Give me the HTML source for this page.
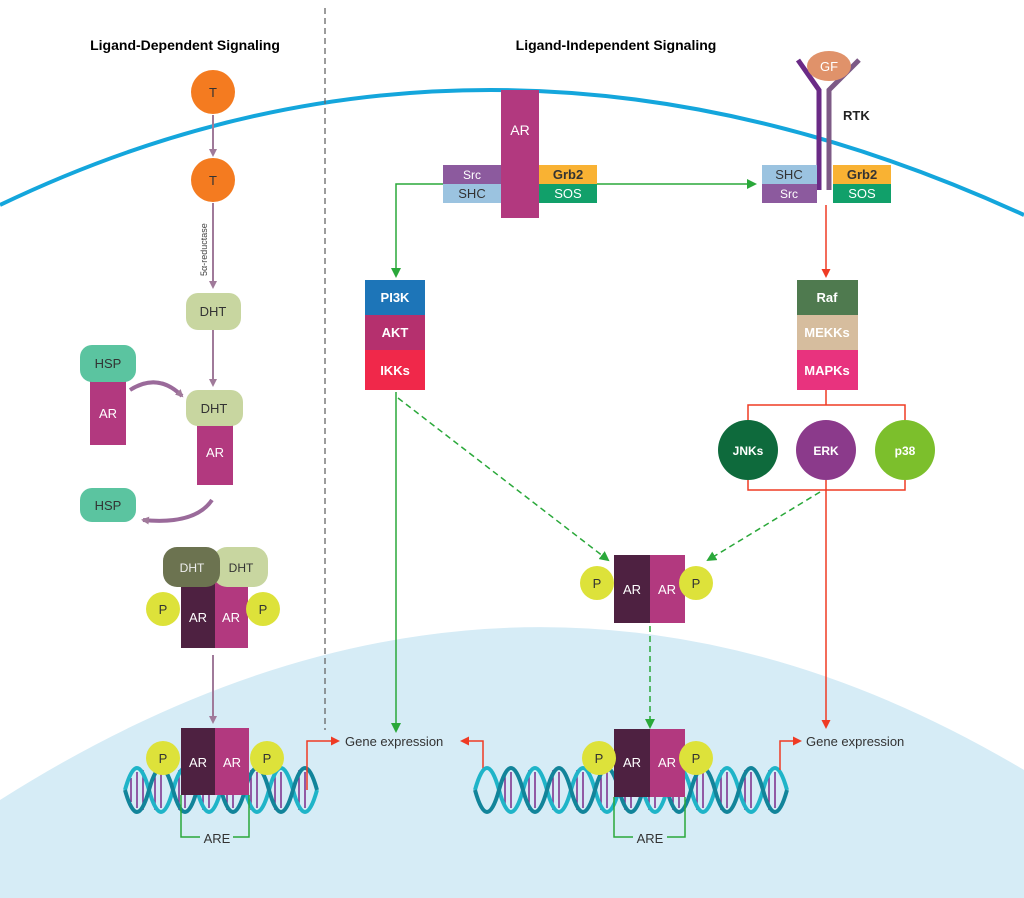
<!DOCTYPE html>
<html><head><meta charset="utf-8"><style>
body{margin:0;background:#fff}
svg{display:block}
text{font-family:"Liberation Sans",sans-serif}
</style></head><body>
<svg width="1024" height="898" viewBox="0 0 1024 898" xmlns="http://www.w3.org/2000/svg">
<defs>
<marker id="ap" markerWidth="8" markerHeight="8" refX="6" refY="4" orient="auto" markerUnits="userSpaceOnUse"><path d="M0,0 L8,4 L0,8 Z" fill="#a07a9a"/></marker>
<marker id="ag" markerWidth="10" markerHeight="10" refX="8" refY="5" orient="auto" markerUnits="userSpaceOnUse"><path d="M0,0 L10,5 L0,10 Z" fill="#2aa83a"/></marker>
<marker id="ar" markerWidth="9" markerHeight="9" refX="7" refY="4.5" orient="auto" markerUnits="userSpaceOnUse"><path d="M0,0 L9,4.5 L0,9 Z" fill="#ef3b24"/></marker>
</defs>
<path d="M0,800 Q520,470 1024,770 L1024,898 L0,898 Z" fill="#d6ecf6"/>
<path d="M0,205 Q490,-30 1024,215" fill="none" stroke="#14a6dc" stroke-width="4"/>
<line x1="325" y1="8" x2="325" y2="730" stroke="#666" stroke-width="1.3" stroke-dasharray="6,4"/>
<text x="185" y="50" font-size="14" font-weight="bold" text-anchor="middle">Ligand-Dependent Signaling</text>
<text x="616" y="50" font-size="14" font-weight="bold" text-anchor="middle">Ligand-Independent Signaling</text>

<!-- left column -->
<circle cx="213" cy="92" r="22" fill="#f47b20"/><text x="213" y="97" font-size="13" text-anchor="middle" fill="#333">T</text>
<line x1="213" y1="115" x2="213" y2="155" stroke="#a07a9a" stroke-width="2" marker-end="url(#ap)"/>
<circle cx="213" cy="180" r="22" fill="#f47b20"/><text x="213" y="185" font-size="13" text-anchor="middle" fill="#333">T</text>
<line x1="213" y1="203" x2="213" y2="287" stroke="#a07a9a" stroke-width="2" marker-end="url(#ap)"/>
<text transform="translate(207,276) rotate(-90)" font-size="9" fill="#444">5α-reductase</text>
<rect x="186" y="293" width="55" height="37" rx="12" fill="#c8d6a0"/><text x="213" y="316" font-size="13" text-anchor="middle" fill="#333">DHT</text>
<line x1="213" y1="330" x2="213" y2="385" stroke="#a07a9a" stroke-width="2" marker-end="url(#ap)"/>
<rect x="197" y="420" width="36" height="65" fill="#b2397f"/><text x="215" y="457" font-size="13" text-anchor="middle" fill="#fff">AR</text>
<rect x="186" y="390" width="57" height="36" rx="12" fill="#c8d6a0"/><text x="214" y="413" font-size="13" text-anchor="middle" fill="#333">DHT</text>
<rect x="90" y="378" width="36" height="67" fill="#b2397f"/><text x="108" y="418" font-size="13" text-anchor="middle" fill="#fff">AR</text>
<rect x="80" y="345" width="56" height="37" rx="12" fill="#5bc4a0"/><text x="108" y="368" font-size="13" text-anchor="middle" fill="#333">HSP</text>
<path d="M130,390 Q158,372 182,396" fill="none" stroke="#9a6a9a" stroke-width="4" marker-end="url(#ap)"/>
<path d="M212,500 Q195,525 143,520" fill="none" stroke="#9a6a9a" stroke-width="4" marker-end="url(#ap)"/>
<rect x="80" y="488" width="56" height="34" rx="12" fill="#5bc4a0"/><text x="108" y="510" font-size="13" text-anchor="middle" fill="#333">HSP</text>
<rect x="181" y="580" width="34" height="68" fill="#4e2141"/><rect x="215" y="580" width="33" height="68" fill="#b2397f"/>
<text x="198" y="622" font-size="13" text-anchor="middle" fill="#fff">AR</text><text x="231" y="622" font-size="13" text-anchor="middle" fill="#fff">AR</text>
<rect x="213" y="547" width="55" height="40" rx="14" fill="#c8d6a0"/><text x="241" y="572" font-size="12" text-anchor="middle" fill="#333">DHT</text>
<rect x="163" y="547" width="57" height="40" rx="14" fill="#6c7350"/><text x="192" y="572" font-size="12" text-anchor="middle" fill="#eee">DHT</text>
<circle cx="163" cy="609" r="17" fill="#dde23a"/><text x="163" y="614" font-size="13" text-anchor="middle" fill="#333">P</text>
<circle cx="263" cy="609" r="17" fill="#dde23a"/><text x="263" y="614" font-size="13" text-anchor="middle" fill="#333">P</text>
<line x1="213" y1="655" x2="213" y2="722" stroke="#a07a9a" stroke-width="2" marker-end="url(#ap)"/>

<!-- left DNA -->
<g stroke="#7a2a8a" stroke-width="1.5">
<path d="M131,778v24M137,772v36M143,770v40M155,770v40M161,772v36M179,770v40M185,772v36M203,770v40M209,772v36M227,770v40M233,772v36M251,770v40M257,772v36M275,770v40M281,772v36M299,770v40M305,772v36"/>
</g>
<path d="M125,790 q12,-44 24,0 t24,0 t24,0 t24,0 t24,0 t24,0 t24,0 t24,0" fill="none" stroke="#1fb4c8" stroke-width="4"/>
<path d="M125,790 q12,44 24,0 t24,0 t24,0 t24,0 t24,0 t24,0 t24,0 t24,0" fill="none" stroke="#12849a" stroke-width="4"/>
<rect x="181" y="728" width="34" height="67" fill="#4e2141"/><rect x="215" y="728" width="34" height="67" fill="#b2397f"/>
<text x="198" y="767" font-size="13" text-anchor="middle" fill="#fff">AR</text><text x="232" y="767" font-size="13" text-anchor="middle" fill="#fff">AR</text>
<circle cx="163" cy="758" r="17" fill="#dde23a"/><text x="163" y="763" font-size="13" text-anchor="middle" fill="#333">P</text>
<circle cx="267" cy="758" r="17" fill="#dde23a"/><text x="267" y="763" font-size="13" text-anchor="middle" fill="#333">P</text>
<path d="M181,795 V837 H200 M233,837 H249 V795" fill="none" stroke="#2aa83a" stroke-width="1.5"/>
<text x="217" y="843" font-size="13" text-anchor="middle" fill="#333">ARE</text>
<path d="M307,790 V741 H338" fill="none" stroke="#ef3b24" stroke-width="1.5" marker-end="url(#ar)"/>
<text x="345" y="746" font-size="13" fill="#333">Gene expression</text>
<path d="M483,770 V741 H462" fill="none" stroke="#ef3b24" stroke-width="1.5" marker-end="url(#ar)"/>

<!-- AR membrane complex -->
<path d="M443,184 H396 V276" fill="none" stroke="#2aa83a" stroke-width="1.5" marker-end="url(#ag)"/>
<path d="M597,184 H755" fill="none" stroke="#2aa83a" stroke-width="1.5" marker-end="url(#ag)"/>
<rect x="501" y="90" width="38" height="128" fill="#b2397f"/><text x="520" y="135" font-size="14" text-anchor="middle" fill="#fff">AR</text>
<rect x="443" y="165" width="58" height="19" fill="#8c5a9e"/><text x="472" y="179" font-size="12" text-anchor="middle" fill="#fff">Src</text>
<rect x="443" y="184" width="58" height="19" fill="#9bc3e0"/><text x="472" y="198" font-size="13" text-anchor="middle" fill="#333">SHC</text>
<rect x="539" y="165" width="58" height="19" fill="#f9b233"/><text x="568" y="179" font-size="13" font-weight="bold" text-anchor="middle" fill="#333">Grb2</text>
<rect x="539" y="184" width="58" height="19" fill="#11a06a"/><text x="568" y="198" font-size="13" text-anchor="middle" fill="#fff">SOS</text>

<!-- RTK -->
<path d="M798,60 L819,90 V190" fill="none" stroke="#6a2a86" stroke-width="5"/>
<path d="M859,60 L829,90 V190" fill="none" stroke="#7d5a86" stroke-width="5"/>
<ellipse cx="829" cy="66" rx="22" ry="15" fill="#e0926a"/><text x="829" y="71" font-size="13" text-anchor="middle" fill="#fff">GF</text>
<text x="843" y="120" font-size="13" font-weight="bold" fill="#222">RTK</text>
<rect x="762" y="165" width="55" height="19" fill="#9bc3e0"/><text x="789" y="179" font-size="13" text-anchor="middle" fill="#333">SHC</text>
<rect x="762" y="184" width="55" height="19" fill="#8c5a9e"/><text x="789" y="198" font-size="12" text-anchor="middle" fill="#fff">Src</text>
<rect x="833" y="165" width="58" height="19" fill="#f9b233"/><text x="862" y="179" font-size="13" font-weight="bold" text-anchor="middle" fill="#333">Grb2</text>
<rect x="833" y="184" width="58" height="19" fill="#11a06a"/><text x="862" y="198" font-size="13" text-anchor="middle" fill="#fff">SOS</text>
<line x1="826" y1="205" x2="826" y2="276" stroke="#ef3b24" stroke-width="1.5" marker-end="url(#ar)"/>

<rect x="365" y="280" width="60" height="35" fill="#1d75b8"/><text x="395" y="302" font-size="13" font-weight="bold" text-anchor="middle" fill="#fff">PI3K</text>
<rect x="365" y="315" width="60" height="35" fill="#b5306e"/><text x="395" y="337" font-size="13" font-weight="bold" text-anchor="middle" fill="#fff">AKT</text>
<rect x="365" y="350" width="60" height="40" fill="#f0284a"/><text x="395" y="375" font-size="13" font-weight="bold" text-anchor="middle" fill="#fff">IKKs</text>
<rect x="797" y="280" width="61" height="35" fill="#4f7a4f"/><text x="827" y="302" font-size="13" font-weight="bold" text-anchor="middle" fill="#fff">Raf</text>
<rect x="797" y="315" width="61" height="35" fill="#d6bd9e"/><text x="827" y="337" font-size="13" font-weight="bold" text-anchor="middle" fill="#fff">MEKKs</text>
<rect x="797" y="350" width="61" height="40" fill="#e8337e"/><text x="827" y="375" font-size="13" font-weight="bold" text-anchor="middle" fill="#fff">MAPKs</text>

<path d="M826,390 V405 M748,420 V405 H905 V420 M748,480 V490 H905 V480" fill="none" stroke="#ef3b24" stroke-width="1.5"/>
<circle cx="748" cy="450" r="30" fill="#0e6a3c"/><text x="748" y="455" font-size="12" font-weight="bold" text-anchor="middle" fill="#fff">JNKs</text>
<circle cx="826" cy="450" r="30" fill="#8b3a8b"/><text x="826" y="455" font-size="12" font-weight="bold" text-anchor="middle" fill="#fff">ERK</text>
<circle cx="905" cy="450" r="30" fill="#7cbf2c"/><text x="905" y="455" font-size="12" font-weight="bold" text-anchor="middle" fill="#fff">p38</text>
<line x1="826" y1="480" x2="826" y2="727" stroke="#ef3b24" stroke-width="1.5" marker-end="url(#ar)"/>
<line x1="820" y1="492" x2="708" y2="560" stroke="#2aa83a" stroke-width="1.5" stroke-dasharray="6,4" marker-end="url(#ag)"/>
<line x1="398" y1="398" x2="608" y2="560" stroke="#2aa83a" stroke-width="1.5" stroke-dasharray="6,4" marker-end="url(#ag)"/>
<line x1="396" y1="392" x2="396" y2="731" stroke="#2aa83a" stroke-width="1.5" marker-end="url(#ag)"/>

<rect x="614" y="555" width="36" height="68" fill="#4e2141"/><rect x="650" y="555" width="35" height="68" fill="#b2397f"/>
<text x="632" y="594" font-size="13" text-anchor="middle" fill="#fff">AR</text><text x="667" y="594" font-size="13" text-anchor="middle" fill="#fff">AR</text>
<circle cx="597" cy="583" r="17" fill="#dde23a"/><text x="597" y="588" font-size="13" text-anchor="middle" fill="#333">P</text>
<circle cx="696" cy="583" r="17" fill="#dde23a"/><text x="696" y="588" font-size="13" text-anchor="middle" fill="#333">P</text>
<line x1="650" y1="626" x2="650" y2="727" stroke="#2aa83a" stroke-width="1.5" stroke-dasharray="6,4" marker-end="url(#ag)"/>

<!-- right DNA -->
<g stroke="#7a2a8a" stroke-width="1.5">
<path d="M505,772v36M511,772v36M529,770v40M535,772v36M553,770v40M559,772v36M577,770v40M583,772v36M601,770v40M607,772v36M625,770v40M631,772v36M649,770v40M655,772v36M673,770v40M679,772v36M697,770v40M703,772v36M721,770v40M727,772v36M745,770v40M751,772v36M769,770v40M775,772v36"/>
</g>
<path d="M475,790 q12,-44 24,0 t24,0 t24,0 t24,0 t24,0 t24,0 t24,0 t24,0 t24,0 t24,0 t24,0 t24,0 t24,0" fill="none" stroke="#1fb4c8" stroke-width="4"/>
<path d="M475,790 q12,44 24,0 t24,0 t24,0 t24,0 t24,0 t24,0 t24,0 t24,0 t24,0 t24,0 t24,0 t24,0 t24,0" fill="none" stroke="#12849a" stroke-width="4"/>
<rect x="614" y="729" width="36" height="68" fill="#4e2141"/><rect x="650" y="729" width="35" height="68" fill="#b2397f"/>
<text x="632" y="767" font-size="13" text-anchor="middle" fill="#fff">AR</text><text x="667" y="767" font-size="13" text-anchor="middle" fill="#fff">AR</text>
<circle cx="599" cy="758" r="17" fill="#dde23a"/><text x="599" y="763" font-size="13" text-anchor="middle" fill="#333">P</text>
<circle cx="696" cy="758" r="17" fill="#dde23a"/><text x="696" y="763" font-size="13" text-anchor="middle" fill="#333">P</text>
<path d="M614,797 V837 H633 M667,837 H685 V797" fill="none" stroke="#2aa83a" stroke-width="1.5"/>
<text x="650" y="843" font-size="13" text-anchor="middle" fill="#333">ARE</text>
<path d="M780,770 V741 H800" fill="none" stroke="#ef3b24" stroke-width="1.5" marker-end="url(#ar)"/>
<text x="806" y="746" font-size="13" fill="#333">Gene expression</text>
</svg>
</body></html>
